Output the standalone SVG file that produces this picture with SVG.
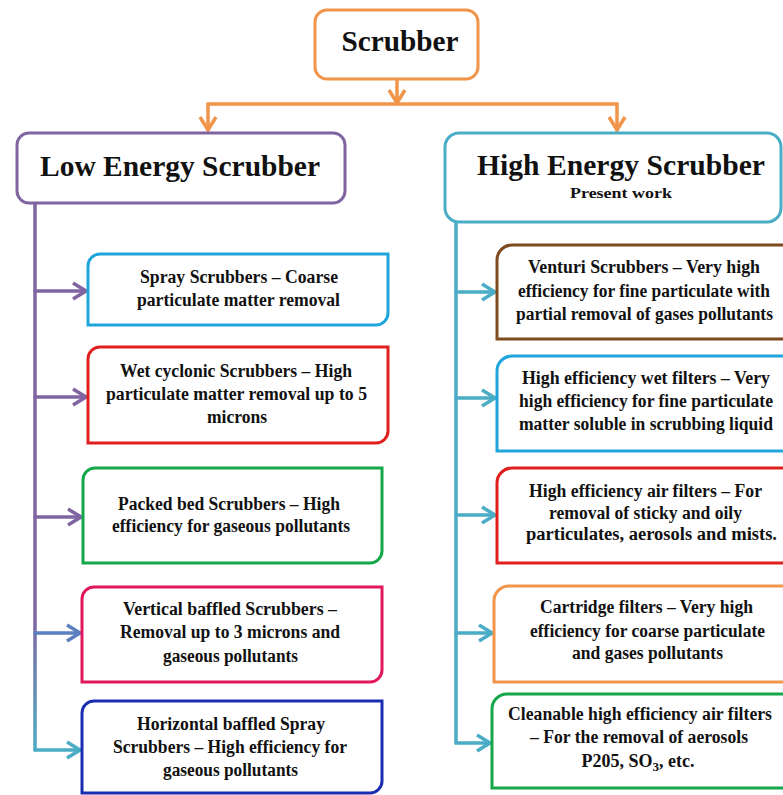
<svg xmlns="http://www.w3.org/2000/svg" width="783" height="795" viewBox="0 0 783 795">
<style>
text{font-family:"Times New Roman","Liberation Serif",Tinos,serif;font-weight:700;fill:#111;text-anchor:middle}
.t{font-size:18px}
.h{font-size:30px}
.box{fill:#fff;stroke-width:3}
.c{fill:none;stroke-width:3.5;stroke-linecap:round}
</style>
<defs>
<marker id="ao" markerUnits="userSpaceOnUse" markerWidth="18" markerHeight="20" viewBox="0 0 18 20" refX="15" refY="10" orient="auto"><path d="M2,2 L15,10 L2,18" fill="none" stroke="#F0954A" stroke-width="3.5"/></marker>
<marker id="ap" markerUnits="userSpaceOnUse" markerWidth="18" markerHeight="20" viewBox="0 0 18 20" refX="15" refY="10" orient="auto"><path d="M2,2 L15,10 L2,18" fill="none" stroke="#8064A2" stroke-width="3.5"/></marker>
<marker id="ab" markerUnits="userSpaceOnUse" markerWidth="18" markerHeight="20" viewBox="0 0 18 20" refX="15" refY="10" orient="auto"><path d="M2,2 L15,10 L2,18" fill="none" stroke="#5B7FBF" stroke-width="3.5"/></marker>
<marker id="at" markerUnits="userSpaceOnUse" markerWidth="18" markerHeight="20" viewBox="0 0 18 20" refX="15" refY="10" orient="auto"><path d="M2,2 L15,10 L2,18" fill="none" stroke="#4BACC6" stroke-width="3.5"/></marker>
<linearGradient id="gp" x1="0" y1="203" x2="0" y2="752" gradientUnits="userSpaceOnUse"><stop offset="0" stop-color="#8064A2"/><stop offset="0.75" stop-color="#8064A2"/><stop offset="1" stop-color="#4BACC6"/></linearGradient>
</defs>
<rect width="783" height="795" fill="#fff"/>
<g id="connectors">
<path class="c" stroke="#F0954A" d="M397,79 V103" marker-end="url(#ao)"/>
<path class="c" stroke="#F0954A" d="M208,104 H617"/>
<path class="c" stroke="#F0954A" d="M208,104 V130" marker-end="url(#ao)"/>
<path class="c" stroke="#F0954A" d="M617,104 V130" marker-end="url(#ao)"/>
<path class="c" stroke="url(#gp)" d="M35,203 V750"/>
<path class="c" stroke="#8064A2" d="M35,291 H86" marker-end="url(#ap)"/>
<path class="c" stroke="#8064A2" d="M35,397 H86" marker-end="url(#ap)"/>
<path class="c" stroke="#8064A2" d="M35,517 H81" marker-end="url(#ap)"/>
<path class="c" stroke="#5B7FBF" d="M35,633 H80" marker-end="url(#ab)"/>
<path class="c" stroke="#4BACC6" d="M35,750 H80" marker-end="url(#at)"/>
<path class="c" stroke="#4BACC6" d="M456,222 V743"/>
<path class="c" stroke="#4BACC6" d="M456,292 H495" marker-end="url(#at)"/>
<path class="c" stroke="#4BACC6" d="M456,398 H495" marker-end="url(#at)"/>
<path class="c" stroke="#4BACC6" d="M456,515 H495" marker-end="url(#at)"/>
<path class="c" stroke="#4BACC6" d="M456,633 H492" marker-end="url(#at)"/>
<path class="c" stroke="#4BACC6" d="M456,743 H490" marker-end="url(#at)"/>
</g>
<g id="scrubber">
<rect class="box" x="315" y="10" width="163" height="69" rx="12" stroke="#F0954A"/>
<text x="400" y="51" style="font-size:30px" textLength="117" lengthAdjust="spacingAndGlyphs">Scrubber</text>
</g>
<g id="low">
<rect class="box" x="17" y="133" width="328" height="70" rx="12" stroke="#8064A2"/>
<text class="h" x="180" y="176" textLength="280" lengthAdjust="spacingAndGlyphs">Low Energy Scrubber</text>
</g>
<g id="high">
<rect class="box" x="445" y="133" width="336" height="89" rx="14" stroke="#4BACC6"/>
<text class="h" x="621" y="175" textLength="288" lengthAdjust="spacingAndGlyphs">High Energy Scrubber</text>
<text x="621" y="198" style="font-size:15px" textLength="102" lengthAdjust="spacingAndGlyphs">Present work</text>
</g>
<g id="spray">
<path class="box" stroke="#1EA5DC" d="M100,254 H388 V313 A12,12 0 0 1 376,325 H88 V266 A12,12 0 0 1 100,254 Z"/>
<text class="t" x="239" y="283" textLength="198" lengthAdjust="spacingAndGlyphs">Spray Scrubbers – Coarse</text>
<text class="t" x="238.5" y="306" textLength="203" lengthAdjust="spacingAndGlyphs">particulate matter removal</text>
</g>
<g id="wet">
<path class="box" stroke="#E0201F" d="M100,347 H388 V431 A12,12 0 0 1 376,443 H88 V359 A12,12 0 0 1 100,347 Z"/>
<text class="t" x="236" y="377" textLength="232" lengthAdjust="spacingAndGlyphs">Wet cyclonic Scrubbers – High</text>
<text class="t" x="236.5" y="400" textLength="261" lengthAdjust="spacingAndGlyphs">particulate matter removal up to 5</text>
<text class="t" x="237" y="423" textLength="60" lengthAdjust="spacingAndGlyphs">microns</text>
</g>
<g id="packed">
<path class="box" stroke="#14A84A" d="M95,468 H382 V551 A12,12 0 0 1 370,563 H83 V480 A12,12 0 0 1 95,468 Z"/>
<text class="t" x="229" y="510" textLength="222" lengthAdjust="spacingAndGlyphs">Packed bed Scrubbers – High</text>
<text class="t" x="231" y="532" textLength="238" lengthAdjust="spacingAndGlyphs">efficiency for gaseous pollutants</text>
</g>
<g id="vertical">
<path class="box" stroke="#E2185F" d="M94,587 H382 V670 A12,12 0 0 1 370,682 H82 V599 A12,12 0 0 1 94,587 Z"/>
<text class="t" x="230" y="615" textLength="214" lengthAdjust="spacingAndGlyphs">Vertical baffled Scrubbers –</text>
<text class="t" x="230" y="638" textLength="220" lengthAdjust="spacingAndGlyphs">Removal up to 3 microns and</text>
<text class="t" x="230.5" y="662" textLength="135" lengthAdjust="spacingAndGlyphs">gaseous pollutants</text>
</g>
<g id="horizontal">
<path class="box" stroke="#1A2DB0" d="M94,701 H382 V781 A12,12 0 0 1 370,793 H82 V713 A12,12 0 0 1 94,701 Z"/>
<text class="t" x="231" y="730" textLength="188" lengthAdjust="spacingAndGlyphs">Horizontal baffled Spray</text>
<text class="t" x="230" y="753" textLength="234" lengthAdjust="spacingAndGlyphs">Scrubbers – High efficiency for</text>
<text class="t" x="230.5" y="776" textLength="135" lengthAdjust="spacingAndGlyphs">gaseous pollutants</text>
</g>
<g id="venturi">
<path class="box" stroke="#7F4A1E" d="M512,245 H800 V339 H497 V260 A15,15 0 0 1 512,245 Z"/>
<text class="t" x="644" y="273" textLength="232" lengthAdjust="spacingAndGlyphs">Venturi Scrubbers – Very high</text>
<text class="t" x="644" y="297" textLength="252" lengthAdjust="spacingAndGlyphs">efficiency for fine particulate with</text>
<text class="t" x="644.5" y="320" textLength="257" lengthAdjust="spacingAndGlyphs">partial removal of gases pollutants</text>
</g>
<g id="wetfilters">
<path class="box" stroke="#1EA5DC" d="M512,356 H800 V451 H497 V371 A15,15 0 0 1 512,356 Z"/>
<text class="t" x="646" y="384" textLength="248" lengthAdjust="spacingAndGlyphs">High efficiency wet filters – Very</text>
<text class="t" x="646" y="407" textLength="254" lengthAdjust="spacingAndGlyphs">high efficiency for fine particulate</text>
<text class="t" x="646" y="430" textLength="254" lengthAdjust="spacingAndGlyphs">matter soluble in scrubbing liquid</text>
</g>
<g id="airfilters">
<path class="box" stroke="#E0201F" d="M512,468 H800 V563 H497 V483 A15,15 0 0 1 512,468 Z"/>
<text class="t" x="645.5" y="497" textLength="233" lengthAdjust="spacingAndGlyphs">High efficiency air filters – For</text>
<text class="t" x="645.5" y="519" textLength="193" lengthAdjust="spacingAndGlyphs">removal of sticky and oily</text>
<text class="t" x="651.5" y="540" textLength="251" lengthAdjust="spacingAndGlyphs">particulates, aerosols and mists.</text>
</g>
<g id="cartridge">
<path class="box" stroke="#F0954A" d="M509,586 H800 V682 H494 V601 A15,15 0 0 1 509,586 Z"/>
<text class="t" x="646.5" y="613" textLength="213" lengthAdjust="spacingAndGlyphs">Cartridge filters – Very high</text>
<text class="t" x="647.5" y="637" textLength="235" lengthAdjust="spacingAndGlyphs">efficiency for coarse particulate</text>
<text class="t" x="647.5" y="659" textLength="151" lengthAdjust="spacingAndGlyphs">and gases pollutants</text>
</g>
<g id="cleanable">
<path class="box" stroke="#14A84A" d="M507,694 H800 V788 H492 V709 A15,15 0 0 1 507,694 Z"/>
<text class="t" x="640" y="720" textLength="264" lengthAdjust="spacingAndGlyphs">Cleanable high efficiency air filters</text>
<text class="t" x="639" y="743" textLength="218" lengthAdjust="spacingAndGlyphs">– For the removal of aerosols</text>
<text class="t" x="638" y="767">P205, SO<tspan style="font-size:13px" dy="4">3</tspan><tspan dy="-4">, etc.</tspan></text>
</g>
</svg>
